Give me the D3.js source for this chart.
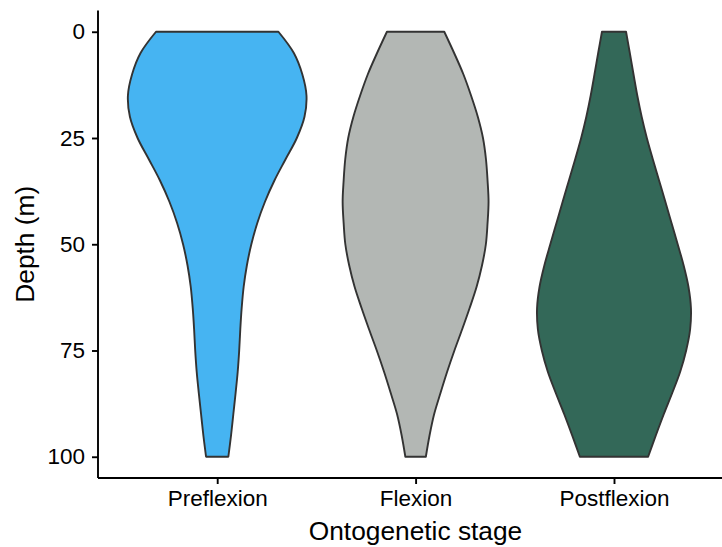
<!DOCTYPE html>
<html>
<head>
<meta charset="utf-8">
<script src="https://cdn.jsdelivr.net/npm/d3@7"></script>
<style>
  body { margin: 0; background: #fff; }
  svg { display: block; }
  .axis text { font-family: 'Liberation Sans', Arial, Helvetica, sans-serif; fill: #000; }
  .axis-title { font-family: 'Liberation Sans', Arial, Helvetica, sans-serif; fill: #000; }
</style>
</head>
<body>
<div class="chart"></div>
<script>
const categories = ['Preflexion', 'Flexion', 'Postflexion'];
const fillColors = ['#46B4F2', '#B3B7B4', '#336858'];

// depth grid (m) at which the violin widths were read
const depths = [0, 5, 10, 15, 20, 25, 30, 35, 40, 45, 50, 55, 60, 65, 70, 75, 80, 85, 90, 95, 100];

// relative density (violin half-width) per stage
const preflexionDensity = [61.5, 77, 85.5, 89.7, 87.7, 80, 68.7, 57.5, 48, 40.3, 34.3, 29.8, 26.6, 24.6, 23.2, 22.1, 20.6, 18.5, 16.2, 13.9, 11.2];
const flexionDensity = [28.8, 38.7, 48, 55.7, 62.5, 67.7, 70.7, 72.3, 73.3, 72.3, 70.6, 66.7, 61.3, 54.3, 46.8, 39, 31.7, 25, 18.6, 14, 10.3];
const postflexionDensity = [12.1, 15.9, 19.6, 23.4, 27.8, 33, 39, 45.3, 51.6, 57.8, 64, 70, 74.8, 77.3, 76.5, 72.5, 66.5, 58.5, 50, 42, 34.3];

const yTicks = [0, 25, 50, 75, 100];
const xTitle = 'Ontogenetic stage';
const yTitle = 'Depth (m)';

const width = 722;
const height = 547;
const margin = { top: 10.5, right: 0, bottom: 69, left: 98 };
const panelBottom = height - margin.bottom;

const series = [preflexionDensity, flexionDensity, postflexionDensity];

const x = d3.scalePoint()
  .domain(categories)
  .range([217.2, 614]);

const y = d3.scaleLinear()
  .domain([-5, 105])
  .range([margin.top, panelBottom]);

const maxDensity = d3.max(series, (s) => d3.max(s));
const w = d3.scaleLinear()
  .domain([0, maxDensity])
  .range([0, 0.45 * x.step()]);

const svg = d3.select('.chart')
  .append('svg')
  .attr('width', width)
  .attr('height', height);

// violins
categories.forEach((cat, i) => {
  const cx = x(cat);
  const rows = depths.map((d, j) => ({ depth: d, density: series[i][j] }));
  const area = d3.area()
    .y((d) => y(d.depth))
    .x0((d) => cx - w(d.density))
    .x1((d) => cx + w(d.density))
    .curve(d3.curveCatmullRom);

  svg.append('path')
    .datum(rows)
    .attr('class', `violin violin--${cat.toLowerCase()}`)
    .attr('d', area)
    .attr('fill', fillColors[i])
    .attr('stroke', '#333333')
    .attr('stroke-width', 1.9)
    .attr('stroke-linejoin', 'round');
});

// y axis
const yAxis = svg.append('g')
  .attr('class', 'axis axis--y')
  .attr('transform', `translate(${margin.left},0)`)
  .call(d3.axisLeft(y).tickValues(yTicks).tickSize(6).tickPadding(7));

yAxis.select('.domain')
  .attr('d', `M0,${margin.top}V${panelBottom}`);

// x axis
const xAxis = svg.append('g')
  .attr('class', 'axis axis--x')
  .attr('transform', `translate(0,${panelBottom})`)
  .call(d3.axisBottom(x).tickSize(6).tickPadding(6));

xAxis.select('.domain')
  .attr('d', `M${margin.left},0H${width}`);

svg.selectAll('.axis .domain, .axis .tick line')
  .attr('stroke', '#000')
  .attr('stroke-width', 1.9);

svg.selectAll('.axis text')
  .attr('font-size', 22.5);

// titles
svg.append('text')
  .attr('class', 'axis-title')
  .attr('x', 415.5)
  .attr('y', 540)
  .attr('text-anchor', 'middle')
  .attr('font-size', 26.3)
  .text(xTitle);

svg.append('text')
  .attr('class', 'axis-title')
  .attr('transform', `translate(34,${y(50)}) rotate(-90)`)
  .attr('text-anchor', 'middle')
  .attr('font-size', 26.3)
  .text(yTitle);
</script>
</body>
</html>
